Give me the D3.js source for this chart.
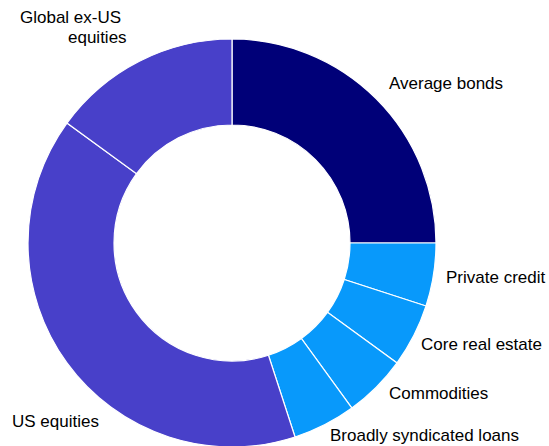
<!DOCTYPE html>
<html>
<head>
<meta charset="utf-8">
<script src="https://cdn.jsdelivr.net/npm/d3@7"></script>
<style>
  html, body { margin: 0; padding: 0; background: #ffffff; }
  svg { display: block; }
  text { font-family: "Liberation Sans", Arial, sans-serif; font-size: 17px; fill: #000000; }
</style>
</head>
<body>
<svg id="chart" width="549" height="446"></svg>
<script>
// Data (percent allocation)
const categories = ["Average bonds", "Private credit", "Core real estate", "Commodities",
                    "Broadly syndicated loans", "US equities", "Global ex-US equities"];
const values = [25, 5, 5, 5, 5, 40, 15];
const groups = ["bonds", "alts", "alts", "alts", "alts", "equity", "equity"];

// Label lines (wrapping as in the reference)
const labelLines = [["Average bonds"], ["Private credit"], ["Core real estate"], ["Commodities"],
                    ["Broadly syndicated loans"], ["US equities"], ["Global ex-US", "equities"]];

// Layout (positions relative to the chart center)
const cx = 232, cy = 243, outerR = 204, innerR = 118;
const labelOffsets = [
  [[157, -154]],
  [[214, 40]],
  [[189, 107]],
  [[157, 156]],
  [[98, 198]],
  [[-220, 184]],
  [[-212, -220], [-164, -200]]
];

const color = d3.scaleOrdinal()
  .domain(["bonds", "alts", "equity"])
  .range(["#000078", "#0899fb", "#4840c9"]);

const svg = d3.select("#chart");
const g = svg.append("g").attr("transform", `translate(${cx},${cy})`);

const pie = d3.pie().sort(null).value(d => d.value);
const arc = d3.arc().innerRadius(innerR).outerRadius(outerR);

const data = categories.map((c, i) => ({ name: c, value: values[i], group: groups[i], i }));

g.selectAll("path.slice")
  .data(pie(data))
  .join("path")
  .attr("class", "slice")
  .attr("d", arc)
  .attr("fill", d => color(d.data.group))
  .attr("stroke", "#ffffff")
  .attr("stroke-width", 1.2);

const labels = g.selectAll("text.label")
  .data(data)
  .join("text")
  .attr("class", "label");

labels.each(function(d) {
  const t = d3.select(this);
  labelLines[d.i].forEach((line, k) => {
    const off = labelOffsets[d.i][k];
    t.append("tspan").attr("x", off[0]).attr("y", off[1]).text(line);
  });
});
</script>
</body>
</html>
